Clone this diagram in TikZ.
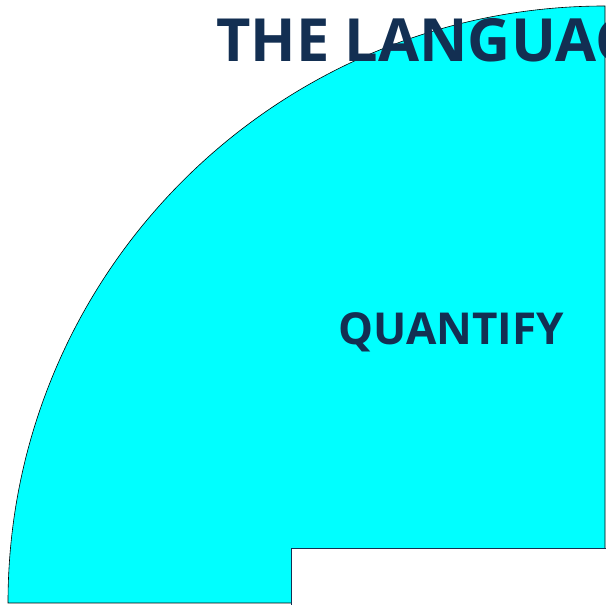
\documentclass[tikz,border=0pt]{standalone}
\usepackage{fontspec}
\setmainfont{Open Sans}
\usepackage{xcolor}
\usetikzlibrary{positioning}
\definecolor{blunotte}{HTML}{132F52}
\definecolor{ciano}{HTML}{00FFFF}

\begin{document}
\begin{tikzpicture}[
            x=1pt, y=1pt,
            font=\bfseries,
            % Stili
            settore/.style={draw=black, line width=0.6pt, fill=ciano},
            vuoto/.style={draw=blunotte, line width=0.8pt, fill=white},
            titolo/.style={text=blunotte, font=\fontsize{59.5}{60}\selectfont\bfseries, anchor=base west, inner sep=0pt},
            etichetta/.style={text=blunotte, font=\fontsize{44}{44}\selectfont\bfseries, anchor=base, inner sep=0pt}
        ]

        % Cornice
        \useasboundingbox (0,0) rectangle (606,605);
        \clip (0,0) rectangle (606,605);

        % Settore circolare
        \coordinate (centro) at (605,2);
        \draw [settore] (centro) -- (8,2) arc[start angle=180, end angle=90, radius=597] -- cycle;

        % Rettangolo bianco
        \draw [vuoto] (291,57) rectangle (615,-10);

        % Testi
        \node (titolo) [titolo] at (216,543) {THE LANGUAGE};
        \node (quantify) [etichetta] at (451,260) {QUANTIFY};

    \end{tikzpicture}
\end{document}
